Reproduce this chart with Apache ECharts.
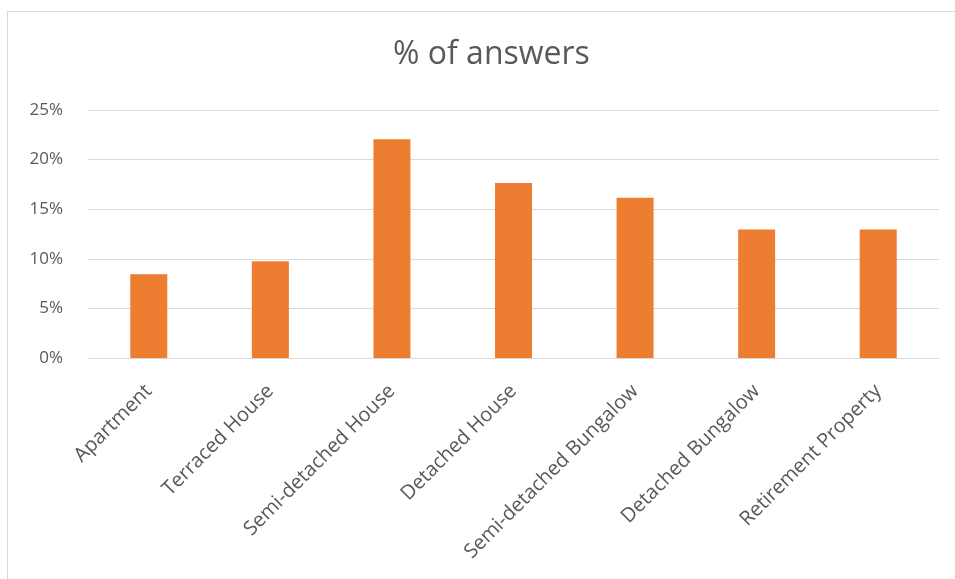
<!DOCTYPE html>
<html>
<head>
<meta charset="utf-8">
<script src="https://cdn.jsdelivr.net/npm/echarts@6/dist/echarts.min.js"></script>
<style>
  html, body { margin: 0; padding: 0; background: #fff; }
  #frame { position: absolute; left: 7px; top: 11px; width: 960px; height: 580px; border: 1px solid #d9d9d9; box-sizing: border-box; }
  #chart { position: absolute; left: 0; top: 0; width: 955px; height: 579px; }
</style>
</head>
<body>
<div id="frame"></div>
<div id="chart"></div>
<script>
// Share of survey answers per property type (percent)
const categories = [
  'Apartment',
  'Terraced House',
  'Semi-detached House',
  'Detached House',
  'Semi-detached Bungalow',
  'Detached Bungalow',
  'Retirement Property'
];
const answerShare = [8.45, 9.75, 22.05, 17.65, 16.15, 12.95, 12.95];
const chartTitle = '% of answers';

const textColor = '#595959';
const fontFamily = "'Open Sans', 'Liberation Sans', sans-serif";

const chart = echarts.init(document.getElementById('chart'), null, { renderer: 'canvas' });
chart.setOption({
  animation: false,
  backgroundColor: 'transparent',
  title: {
    text: chartTitle,
    left: 388,
    top: 34,
    textStyle: { color: textColor, fontSize: 32, fontWeight: 'normal', fontFamily: fontFamily }
  },
  grid: { left: 88, right: 16, top: 110, bottom: 221, containLabel: false },
  xAxis: {
    type: 'category',
    data: categories,
    axisLine: { show: true, lineStyle: { color: '#d9d9d9', width: 1 } },
    axisTick: { show: false },
    axisLabel: {
      rotate: 45,
      margin: 30,
      color: textColor,
      fontSize: 20,
      fontFamily: fontFamily,
      interval: 0
    }
  },
  yAxis: {
    type: 'value',
    min: 0,
    max: 25,
    interval: 5,
    axisLine: { show: false },
    axisTick: { show: false },
    splitLine: { lineStyle: { color: '#d9d9d9', width: 1 } },
    axisLabel: {
      formatter: '{value}%',
      margin: 25,
      color: textColor,
      fontSize: 17,
      fontFamily: fontFamily
    }
  },
  series: [{
    type: 'bar',
    data: answerShare,
    barWidth: 37,
    itemStyle: { color: '#ED7D31' }
  }]
});
</script>
</body>
</html>
